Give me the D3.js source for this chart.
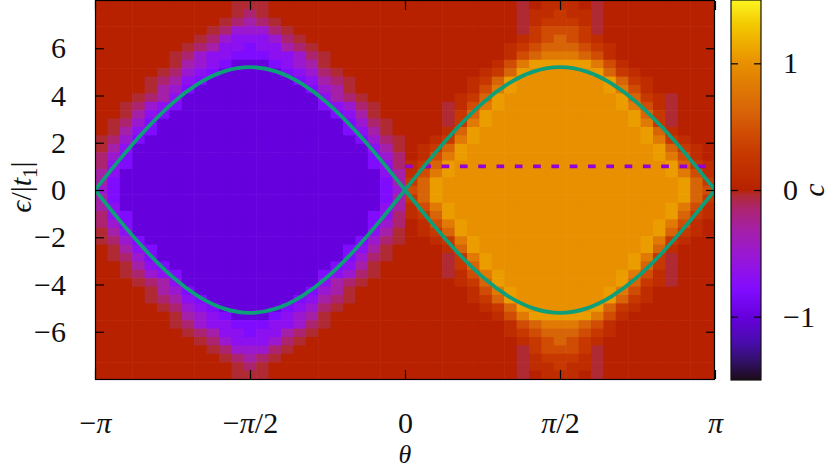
<!DOCTYPE html>
<html>
<head>
<meta charset="utf-8">
<script src="https://cdn.jsdelivr.net/npm/d3@7"></script>
<style>
  body { margin: 0; background: #fff; }
  svg { display: block; }
  text { font-family: "Liberation Serif", "Times New Roman", Times, "DejaVu Serif", serif; fill: #111; }
</style>
</head>
<body>
<svg id="chart" width="830" height="469"></svg>
<script>
// Tick values and labels
const thetaTicks = [-Math.PI, -Math.PI / 2, 0, Math.PI / 2, Math.PI];
const thetaLabels = ["−π", "−π/2", "0", "π/2", "π"];
const epsTicks = [-6, -4, -2, 0, 2, 4, 6];
const cbTicks = [-1, 0, 1];

// Chern number map, one character per cell.
// Left half is theta < 0 (25 columns), right half theta > 0 (25 columns), rows from eps = 8 down to -8
const heatLeft = [
  "00000000000aaa00000000000",
  "00000000000aba00000000000",
  "0000000000abcba0000000000",
  "000000000abdddba000000000",
  "00000000abdeeedba00000000",
  "0000000abceefeecba0000000",
  "000000abdeefffeedba000000",
  "000000acdefgggfedca000000",
  "00000abdefgggggfedba00000",
  "0000abcefgggggggfecba0000",
  "0000acdfgggggggggfdca0000",
  "000abcegggggggggggecba000",
  "00abdefgggggggggggfedba00",
  "00acefgggggggggggggfeca00",
  "0abdfgggggggggggggggfdba0",
  "0acefgggggggggggggggfeca0",
  "abdfgggggggggggggggggfdba",
  "acegggggggggggggggggggeca",
  "bdfgggggggggggggggggggfdb",
  "befgggggggggggggggggggfeb",
  "cegggggggggggggggggggggec",
  "cfgggggggggggggggggggggfc",
  "dfgggggggggggggggggggggfd",
  "cfgggggggggggggggggggggfc",
  "cegggggggggggggggggggggec",
  "befgggggggggggggggggggfeb",
  "bdfgggggggggggggggggggfdb",
  "acegggggggggggggggggggeca",
  "abdfgggggggggggggggggfdba",
  "0acefgggggggggggggggfeca0",
  "0abdfgggggggggggggggfdba0",
  "00acefgggggggggggggfeca00",
  "00abdefgggggggggggfedba00",
  "000abcegggggggggggecba000",
  "0000acdfgggggggggfdca0000",
  "0000abcefgggggggfecba0000",
  "00000abdefgggggfedba00000",
  "000000acdefgggfedca000000",
  "000000abdeefffeedba000000",
  "0000000abceefeecba0000000",
  "00000000abdeeedba00000000",
  "000000000abdddba000000000",
  "0000000000abcba0000000000",
  "00000000000aba00000000000",
  "00000000000aaa00000000000"
];
const heatRight = [
  "000000000a01110a000000000",
  "000000000a11211a000000000",
  "000000000a12221a000000000",
  "000000000a23332a000000000",
  "0000000001234321000000000",
  "0000000012344432100000000",
  "0000000013455543100000000",
  "0000000135777775310000000",
  "0000001247666667421000000",
  "0000012476666666742100000",
  "0000013576666666753100000",
  "000012476666666667421a000",
  "000a13576666666667531a000",
  "000a24766666666666742a000",
  "000a25766666666666752a000",
  "0001476666666666666741000",
  "0012576666666666666752100",
  "0124766666666666666674210",
  "0135766666666666666675310",
  "1247666666666666666667421",
  "1357666666666666666667531",
  "2476666666666666666666742",
  "3476666666666666666666743",
  "2476666666666666666666742",
  "1357666666666666666667531",
  "1247666666666666666667421",
  "0135766666666666666675310",
  "0124766666666666666674210",
  "0012576666666666666752100",
  "0001476666666666666741000",
  "000a25766666666666752a000",
  "000a24766666666666742a000",
  "000a13576666666667531a000",
  "000012476666666667421a000",
  "0000013576666666753100000",
  "0000012476666666742100000",
  "0000001247666667421000000",
  "0000000135777775310000000",
  "0000000013455543100000000",
  "0000000012344432100000000",
  "0000000001234321000000000",
  "000000000a23332a000000000",
  "000000000a12221a000000000",
  "000000000a11211a000000000",
  "000000000a01110a000000000"
];
// value of each map character
const cellValue = {
  "g": -1.0, "f": -0.8, "e": -0.68, "d": -0.5, "c": -0.32, "b": -0.15, "a": -0.04,
  "0": 0,
  "1": 0.12, "2": 0.28, "3": 0.45, "4": 0.62, "5": 0.82, "6": 1.0, "7": 1.07
};

// Palette of the colour box
const colorStops = [
  [-1.5, "#1c0c18"], [-1.35, "#32106a"], [-1.2, "#4a0cae"], [-1.0, "#6600dc"],
  [-0.8, "#7f0cff"], [-0.68, "#8c10f0"], [-0.5, "#9a18d0"], [-0.32, "#a420a8"],
  [-0.15, "#ac2470"], [-0.04, "#b02a34"], [0, "#b72100"], [0.12, "#be2c00"],
  [0.28, "#c63800"], [0.45, "#d04c04"], [0.62, "#d86408"], [0.82, "#e07a04"],
  [1.0, "#e89000"], [1.1, "#eca200"], [1.3, "#f2c800"], [1.5, "#fcf520"]
];

// Band edges eps = +-5.2|sin theta|, sampled every 15 degrees
const curveTheta = [-3.1416, -2.8798, -2.6180, -2.3562, -2.0944, -1.8326, -1.5708, -1.3090, -1.0472, -0.7854, -0.5236, -0.2618, 0,
  0.2618, 0.5236, 0.7854, 1.0472, 1.3090, 1.5708, 1.8326, 2.0944, 2.3562, 2.6180, 2.8798, 3.1416];
const upperEps = [0, 1.35, 2.60, 3.68, 4.50, 5.02, 5.20, 5.02, 4.50, 3.68, 2.60, 1.35, 0,
  1.35, 2.60, 3.68, 4.50, 5.02, 5.20, 5.02, 4.50, 3.68, 2.60, 1.35, 0];
const lowerEps = [0, -1.35, -2.60, -3.68, -4.50, -5.02, -5.20, -5.02, -4.50, -3.68, -2.60, -1.35, 0,
  -1.35, -2.60, -3.68, -4.50, -5.02, -5.20, -5.02, -4.50, -3.68, -2.60, -1.35, 0];

// Dashed line at eps = 1
const dashTheta = [0, Math.PI];
const dashEps = [1, 1];

const FONT = '"Liberation Serif", "Times New Roman", Times, serif';
const svg = d3.select("#chart").attr("font-family", FONT);

const x = d3.scaleLinear().domain([-Math.PI, Math.PI]).range([95, 715]);
const y = d3.scaleLinear().domain([-8, 8]).range([379, 1]);
const cbY = d3.scaleLinear().domain([-1.5, 1.5]).range([380, 0]);

const color = d3.scaleLinear()
    .domain(colorStops.map(d => d[0]))
    .range(colorStops.map(d => d[1]))
    .clamp(true);

svg.append("defs").append("clipPath")
    .attr("id", "plotClip")
    .append("rect")
    .attr("x", x(-Math.PI)).attr("y", y(8))
    .attr("width", x(Math.PI) - x(-Math.PI))
    .attr("height", y(-8) - y(8));

// Heat map cells
const nRows = heatLeft.length;
const nCols = heatLeft[0].length + heatRight[0].length;
const colBand = d3.scaleBand().domain(d3.range(nCols)).range([x(-Math.PI), x(Math.PI)]);
const rowBand = d3.scaleBand().domain(d3.range(nRows)).range([y(8), y(-8)]);

const cells = [];
heatLeft.forEach((row, j) => {
    const full = row + heatRight[j];
    if (full.length !== nCols) console.warn("row " + j + " has " + full.length + " cells");
    full.split("").forEach((ch, i) => cells.push({ i: i, j: j, v: cellValue[ch] }));
});

svg.append("g")
    .attr("clip-path", "url(#plotClip)")
    .selectAll("rect")
    .data(cells)
    .join("rect")
    .attr("x", d => colBand(d.i))
    .attr("y", d => rowBand(d.j))
    .attr("width", colBand.bandwidth() + 0.6)
    .attr("height", rowBand.bandwidth() + 0.6)
    .attr("fill", d => color(d.v));

const plot = svg.append("g").attr("clip-path", "url(#plotClip)");

// dashed line
plot.append("path")
    .datum(dashTheta.map((t, i) => [t, dashEps[i]]))
    .attr("d", d3.line().x(d => x(d[0])).y(d => y(d[1])))
    .attr("fill", "none")
    .attr("stroke", "#9400d3")
    .attr("stroke-width", 3.6)
    .attr("stroke-dasharray", "7.7,10.6");

// band edge curves, one arch at a time so the kink at 0 stays sharp
const curveLine = d3.line().x(d => x(d[0])).y(d => y(d[1])).curve(d3.curveNatural);
[upperEps, lowerEps].forEach(eps => {
    [[0, 13], [12, 25]].forEach(([a, b]) => {
        const pts = curveTheta.slice(a, b).map((t, k) => [t, eps[a + k]]);
        plot.append("path")
            .datum(pts)
            .attr("d", curveLine)
            .attr("fill", "none")
            .attr("stroke", "#0e9e7a")
            .attr("stroke-width", 3.8);
    });
});

// Axes
const fmtNum = d => d < 0 ? "−" + Math.abs(d) : String(d);
const styleAxis = g => {
    g.select(".domain").remove();
    g.attr("font-size", 30).attr("font-family", FONT);
    g.selectAll(".tick line").attr("stroke", "#000").attr("stroke-width", 1.2);
};

svg.append("g")
    .attr("transform", `translate(0,${y(-8)})`)
    .call(d3.axisBottom(x).tickValues(thetaTicks).tickSize(-9).tickFormat((d, i) => thetaLabels[i]))
    .call(styleAxis)
    .call(g => g.selectAll("text")
        .attr("y", 54).attr("dy", null)
        .each(function (d, i) {
            const t = d3.select(this);
            t.text(null);
            thetaLabels[i].split(/(π)/).filter(s => s.length).forEach(s => {
                t.append("tspan").text(s).attr("font-style", s === "π" ? "italic" : null);
            });
        }));

svg.append("g")
    .attr("transform", `translate(0,${y(8)})`)
    .call(d3.axisTop(x).tickValues(thetaTicks).tickSize(-9).tickFormat(""))
    .call(styleAxis);

svg.append("g")
    .attr("transform", `translate(${x(-Math.PI)},0)`)
    .call(d3.axisLeft(y).tickValues(epsTicks).tickSize(-9).tickPadding(29).tickFormat(fmtNum))
    .call(styleAxis);

svg.append("g")
    .attr("transform", `translate(${x(Math.PI)},0)`)
    .call(d3.axisRight(y).tickValues(epsTicks).tickSize(-9).tickFormat(""))
    .call(styleAxis);

// plot frame
svg.append("rect")
    .attr("x", x(-Math.PI) + 0.5).attr("y", 0.5)
    .attr("width", x(Math.PI) - x(-Math.PI) - 1)
    .attr("height", y(-8))
    .attr("fill", "none")
    .attr("stroke", "#000")
    .attr("stroke-width", 1.2);

// Colour box
const pct = d3.scaleLinear().domain([-1.5, 1.5]).range([0, 100]);
const grad = svg.select("defs").append("linearGradient")
    .attr("id", "cbGrad")
    .attr("x1", "0").attr("y1", "1").attr("x2", "0").attr("y2", "0");
grad.selectAll("stop")
    .data(colorStops)
    .join("stop")
    .attr("offset", d => pct(d[0]) + "%")
    .attr("stop-color", d => d[1]);

const cbLeft = 731, cbRight = 761;
svg.append("rect")
    .attr("x", cbLeft).attr("y", cbY(1.5))
    .attr("width", cbRight - cbLeft)
    .attr("height", cbY(-1.5) - cbY(1.5))
    .attr("fill", "url(#cbGrad)")
    .attr("stroke", "#111")
    .attr("stroke-width", 1.2);

svg.append("g")
    .attr("transform", `translate(${cbLeft},0)`)
    .call(d3.axisLeft(cbY).tickValues(cbTicks).tickSize(-7).tickFormat(""))
    .call(styleAxis);

svg.append("g")
    .attr("transform", `translate(${cbRight},0)`)
    .call(d3.axisRight(cbY).tickValues(cbTicks).tickSize(-7).tickPadding(22).tickFormat(fmtNum))
    .call(styleAxis);

// Axis titles
svg.append("text")
    .attr("x", x(0)).attr("y", 463)
    .attr("text-anchor", "middle")
    .attr("font-size", 26)
    .attr("font-style", "italic")
    .text("θ");

const yTitle = svg.append("text")
    .attr("transform", `translate(31,${y(0) - 3}) rotate(-90)`)
    .attr("text-anchor", "middle")
    .attr("font-size", 30);
yTitle.append("tspan").attr("font-style", "italic").text("ϵ");
yTitle.append("tspan").text("/|");
yTitle.append("tspan").attr("font-style", "italic").text("t");
yTitle.append("tspan").attr("font-size", 21).attr("dy", 6).text("1");
yTitle.append("tspan").attr("dy", -6).text("|");

svg.append("text")
    .attr("transform", `translate(824,${cbY(0)}) rotate(-90)`)
    .attr("text-anchor", "middle")
    .attr("font-size", 30)
    .attr("font-style", "italic")
    .text("c");
</script>
</body>
</html>
